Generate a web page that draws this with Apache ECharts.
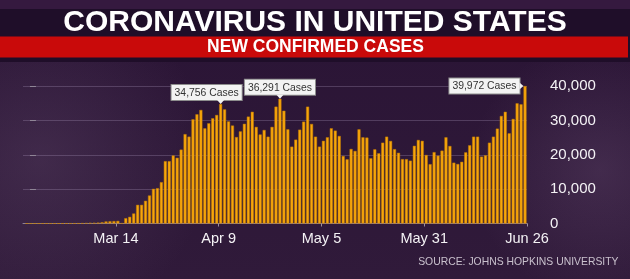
<!DOCTYPE html>
<html>
<head>
<meta charset="utf-8">
<script src="https://cdn.jsdelivr.net/npm/echarts@6/dist/echarts.min.js"></script>
<style>
  html, body { margin: 0; padding: 0; background: #2a1433; }
  #chart { width: 630px; height: 279px; }
</style>
</head>
<body>
<div id="chart"></div>
<script>
// ---- DATA ----
const startDate = "Feb 20";           // first bar
const titleText = "CORONAVIRUS IN UNITED STATES";
const subtitleText = "NEW CONFIRMED CASES";
const sourceText = "SOURCE: JOHNS HOPKINS UNIVERSITY";
// daily new confirmed cases, Feb 20 .. Jun 25
const cases = [
  0, 0, 0, 0, 0, 0, 0, 0, 0, 10,
  10, 20, 20, 30, 60, 100, 180, 200, 250, 350,
  600, 650, 700, 750, 60, 1550, 1940, 2910, 5430, 5430,
  6600, 8150, 10090, 10280, 12030, 18140, 18140, 19790, 19110, 21500,
  26000, 25270, 30310, 31770, 33030, 27690, 29150, 30610, 31570, 34756,
  33200, 29700, 28500, 25150, 26800, 29000, 31100, 32500, 28100, 25900,
  27200, 25260, 28100, 34000, 36291, 32800, 27400, 22360, 24400, 27300,
  29630, 33990, 28950, 25260, 22360, 24050, 25080, 27700, 27020, 25460,
  19640, 18680, 21680, 21100, 27400, 25080, 25000, 18970, 21580, 20420,
  23510, 25260, 24010, 21630, 20560, 18730, 18730, 18280, 22600, 24300,
  24050, 19930, 17260, 20760, 19740, 21200, 25080, 22550, 17700, 17310,
  17950, 20700, 22750, 25260, 25260, 19450, 19840, 23510, 25260, 27600,
  31280, 32500, 26240, 30410, 34970, 34680, 39972
];
const tickLabels = ["Mar 14", "Apr 9", "May 5", "May 31", "Jun 26"];
const yTicks = [0, 10000, 20000, 30000, 40000];
const calloutDates = ["Apr 9", "Apr 24", "Jun 25"];

// ---- styling of the callouts (placement only) ----
const calloutPlacement = {
  "Apr 9":  { side: "top", shiftX: -14 },
  "Apr 24": { side: "top", shiftX: 0 },
  "Jun 25": { side: "left", shiftX: 0 }
};

// ---- helpers ----
const MONTHS = ["Jan","Feb","Mar","Apr","May","Jun","Jul","Aug","Sep","Oct","Nov","Dec"];
function parseLabel(s) {
  const [m, d] = s.split(" ");
  return Date.UTC(2020, MONTHS.indexOf(m), parseInt(d, 10));
}
const t0 = parseLabel(startDate);
function idxOf(s) { return Math.round((parseLabel(s) - t0) / 86400000); }
function labelOf(i) {
  const d = new Date(t0 + Math.round(i) * 86400000);
  return MONTHS[d.getUTCMonth()] + " " + d.getUTCDate();
}
const days = cases.map((_, i) => labelOf(i));
const fmt = v => v.toLocaleString("en-US");

const SANS = "'Liberation Sans', Arial, sans-serif";

const calloutIdx = {};
calloutDates.forEach(d => { calloutIdx[idxOf(d)] = calloutPlacement[d]; });

const boxStyle = {
  show: true,
  color: "#333333",
  fontFamily: SANS,
  fontSize: 10.4,
  lineHeight: 12,
  backgroundColor: "#f3f3f3",
  borderColor: "#8d8d8d",
  borderWidth: 1,
  padding: [2, 3, 1, 3],
  formatter: p => fmt(p.value[1]) + " Cases"
};

const barData = cases.map((v, i) => {
  const item = { value: [i + 0.5, v] };
  const pl = calloutIdx[i];
  if (pl && pl.side === "top") {
    item.label = Object.assign({}, boxStyle, { position: "top", distance: 4, offset: [pl.shiftX, 0] });
  } else if (pl && pl.side === "left") {
    item.label = Object.assign({}, boxStyle, { position: [-4, 0], align: "right", verticalAlign: "middle" });
  }
  return item;
});

const pointerData = calloutDates.map(d => {
  const i = idxOf(d);
  const v = cases[i];
  if (calloutPlacement[d].side === "top") {
    return { coord: [i + 0.5, v], symbol: "triangle", symbolSize: [7, 4], symbolRotate: 180, symbolOffset: [0, -2] };
  }
  return { coord: [i + 0.5, v], symbol: "triangle", symbolSize: [7, 4], symbolRotate: -90, symbolOffset: [-3.6, 0] };
});

const chart = echarts.init(document.getElementById("chart"), null, { renderer: "canvas" });

chart.setOption({
  backgroundColor: {
    type: "linear", x: 0, y: 0, x2: 0, y2: 1,
    colorStops: [
      { offset: 0, color: "#2a1435" },
      { offset: 1, color: "#301a3a" }
    ]
  },
  animation: false,
  graphic: [
    { type: "circle", z: -10, silent: true, shape: { cx: 40, cy: 160, r: 170 },
      style: { fill: { type: "radial", x: 0.5, y: 0.5, r: 0.5,
        colorStops: [{ offset: 0, color: "rgba(120,95,130,0.26)" }, { offset: 1, color: "rgba(120,95,130,0)" }] } } },
    { type: "circle", z: -10, silent: true, shape: { cx: 600, cy: 170, r: 130 },
      style: { fill: { type: "radial", x: 0.5, y: 0.5, r: 0.5,
        colorStops: [{ offset: 0, color: "rgba(140,110,150,0.22)" }, { offset: 1, color: "rgba(140,110,150,0)" }] } } },
    { type: "rect", z: -9, silent: true, shape: { x: 0, y: 9, width: 630, height: 53 },
      style: { fill: "#1f0e29" } },
    { type: "rect", z: -9, silent: true, shape: { x: 0, y: 0, width: 630, height: 9 },
      style: { fill: "#35193f" } },
    { type: "rect", z: 5, silent: true, shape: { x: 0, y: 36.5, width: 628, height: 21 },
      style: { fill: "#c90a0a" } },
    { type: "text", z: 6, silent: true, x: 315, y: 23,
      style: { text: titleText, fill: "#ffffff", font: "bold 30px " + SANS, align: "center", verticalAlign: "middle" } },
    { type: "text", z: 6, silent: true, x: 315.5, y: 47.5,
      style: { text: subtitleText, fill: "#ffffff", font: "bold 17.5px " + SANS, align: "center", verticalAlign: "middle" } },
    { type: "text", z: 6, silent: true, x: 618.5, y: 262,
      style: { text: sourceText, fill: "#c9c1cd", font: "10.4px " + SANS, align: "right", verticalAlign: "middle" } }
  ],
  grid: { left: 23, right: 103, top: 86, bottom: 55.5, containLabel: false },
  xAxis: {
    type: "value",
    min: -0.5,
    max: idxOf(tickLabels[tickLabels.length - 1]),
    splitLine: { show: false },
    axisLine: { show: true, lineStyle: { color: "#8c7e94", width: 1 } },
    axisTick: { show: true, length: 3, customValues: tickLabels.map(idxOf),
      lineStyle: { color: "#9a8fa0", width: 1 } },
    axisLabel: {
      customValues: tickLabels.map(idxOf),
      formatter: v => labelOf(v),
      color: "#f4f2f5",
      fontFamily: SANS,
      fontSize: 14.5,
      margin: 8
    }
  },
  yAxis: {
    type: "value",
    position: "right",
    min: yTicks[0],
    max: yTicks[yTicks.length - 1],
    interval: yTicks[1] - yTicks[0],
    axisLine: { show: false },
    axisTick: { show: true, length: 11, lineStyle: { color: "#8f8596", width: 1, type: [6, 5], dashOffset: 6 } },
    splitLine: { show: true, lineStyle: { color: "rgba(170,150,185,0.3)", width: 1 } },
    axisLabel: {
      formatter: v => fmt(v),
      color: "#f4f2f5",
      fontFamily: SANS,
      fontSize: 15,
      margin: 23
    }
  },
  series: [{
    type: "bar",
    data: barData,
    barWidth: 3.0,
    itemStyle: { color: "#f7a60b", borderColor: "#c27c05", borderWidth: 0.5 },
    markPoint: {
      silent: true,
      label: { show: false },
      itemStyle: { color: "#f3f3f3" },
      data: pointerData
    },
    z: 3
  }]
});
</script>
</body>
</html>
